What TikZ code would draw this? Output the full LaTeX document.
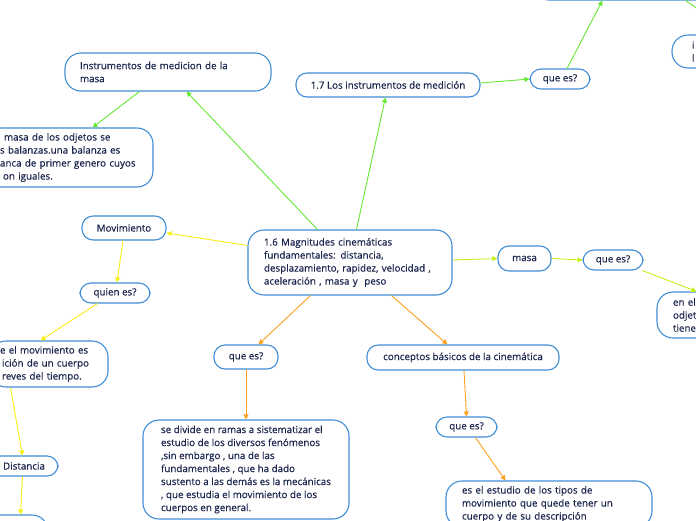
\documentclass[tikz,border=0pt]{standalone}
\usepackage{fontspec}
\setmainfont{Open Sans}[FakeBold=0.5]
\usetikzlibrary{arrows.meta}
\definecolor{boxblue}{RGB}{64,142,214}
\definecolor{txt}{RGB}{28,38,78}
\definecolor{lgreen}{RGB}{102,232,52}
\definecolor{lime}{RGB}{196,240,24}
\definecolor{lyellow}{RGB}{246,238,20}
\definecolor{lorange}{RGB}{250,160,28}
\begin{document}
\begin{tikzpicture}[x=1pt,y=-1pt,
  box/.style={draw=boxblue, line width=1.1pt, fill=white, rounded corners=11pt,
    text=txt, inner sep=0pt, font=\fontsize{9.8}{13}\selectfont},
  bigbox/.style={box, rounded corners=16pt, align=left},
  conn/.style={line width=0.9pt, -{Triangle[length=5pt,width=5pt]}}]
\useasboundingbox (0,0) rectangle (696,520);
% nodes
\node[bigbox, minimum width=206pt, minimum height=38pt, text width=176pt] (instr) at (168,72) {Instrumentos de medicion de la\\masa};
\node[bigbox, minimum height=59pt, text width=140pt, minimum width=168pt] (libra) at (69,157.5)
  {\hspace*{5pt}masa de los odjetos se\\\hspace*{1pt}s balanzas.una balanza es\\\hspace*{1pt}anca de primer genero cuyos\\\hspace*{4pt}on iguales.};
\node[bigbox, minimum width=204pt, minimum height=65pt, text width=172pt] (main) at (350,262.5)
  {1.6 Magnitudes cinemáticas\\fundamentales: distancia,\\desplazamiento, rapidez, velocidad ,\\aceleración , masa y\ \ peso};
\node[box, minimum width=184pt, minimum height=24pt] (inst17) at (388,85) {1.7 Los instrumentos de medición};
\node[box, minimum width=60pt, minimum height=20pt] (q1) at (560,79) {que es?};
\node[bigbox, minimum width=200pt, minimum height=40pt] (topbox) at (633,-20) {};
\node[bigbox, minimum width=80pt, minimum height=33pt, text width=40pt] (ibox) at (712,51.5) {i\\l};
\node[box, minimum width=53pt, minimum height=25pt] (masa) at (524.5,258.5) {masa};
\node[box, minimum width=60pt, minimum height=20pt] (q2) at (613,260) {que es?};
\node[bigbox, minimum width=92pt, minimum height=46pt, text width=60pt] (enel) at (703,315) {en el\\odjet\\tiene};
\node[box, minimum width=84pt, minimum height=24pt] (mov) at (124,228) {Movimiento};
\node[box, minimum width=70pt, minimum height=20pt] (quien) at (115,293) {quien es?};
\node[bigbox, minimum width=118pt, minimum height=46pt, text width=100pt] (movdef) at (49,364)
  {\hspace*{1pt}e el movimiento es\\\hspace*{3pt}ición de un cuerpo\\\hspace*{3pt}reves del tiempo.};
\node[box, minimum width=68pt, minimum height=20pt] (dist) at (24,466) {Distancia};
\node[bigbox, minimum width=78pt, minimum height=30pt] (dl) at (9,530) {};
\node[box, minimum width=64pt, minimum height=24pt] (q3) at (246,357) {que es?};
\node[bigbox, minimum width=206pt, minimum height=99pt] (divide) at (246,469.5)
  {se divide en ramas a sistematizar el\\estudio de los diversos fenómenos\\,sin embargo , una de las\\fundamentales , que ha dado\\sustento a las demás es la mecánicas\\, que estudia el movimiento de los\\cuerpos en general.};
\node[box, minimum width=192pt, minimum height=25pt] (concept) at (463,357.5) {conceptos básicos de la cinemática};
\node[box, minimum width=61pt, minimum height=20pt] (q4) at (466.5,427) {que es?};
\node[bigbox, minimum width=206pt, minimum height=46pt, text width=174pt] (estudio) at (549,504)
  {es el estudio de los tipos de\\movimiento que quede tener un\\cuerpo y de su descripción};
% connectors
\draw[conn, lgreen] ([xshift=70pt]main.north west) -- ([xshift=122pt]instr.south west);
\draw[conn, lgreen] ([xshift=75pt]instr.south west) -- ([xshift=-61pt]libra.north east);
\draw[conn, lgreen] ([xshift=109pt]main.north west) -- ([xshift=90pt]inst17.south west);
\draw[conn, lgreen] ([yshift=2pt]inst17.east) -- (q1.west);
\draw[conn, lgreen] ([xshift=7pt]q1.north) -- ([xshift=70pt]topbox.south west);
\draw[conn, lgreen] ([xshift=153pt]topbox.south west) -- ([xshift=24pt]ibox.north);
\draw[conn, lime] ([yshift=2.5pt]main.east) -- (masa.west);
\draw[conn, lime] (masa.east) -- (q2.west);
\draw[conn, lime] ([xshift=-1pt]q2.south east) -- ([xshift=40pt]enel.north west);
\draw[conn, lyellow] ([yshift=-16pt]main.north west) -- ([yshift=-5pt]mov.east);
\draw[conn, lyellow] ([xshift=-1pt]mov.south) -- ([xshift=2pt]quien.north);
\draw[conn, lyellow] ([xshift=18pt]quien.south west) -- ([xshift=-68pt]movdef.north east);
\draw[conn, lyellow] ([xshift=21pt]movdef.south west) -- ([xshift=33pt]dist.north west);
\draw[conn, lyellow] ([xshift=33pt]dist.south west) -- ([xshift=51pt]dl.north west);
\draw[conn, lorange] ([xshift=63pt]main.south west) -- ([xshift=45pt]q3.north west);
\draw[conn, lorange] (q3.south) -- (divide.north);
\draw[conn, lorange] ([xshift=144pt]main.south west) -- ([xshift=81pt]concept.north west);
\draw[conn, lorange] ([xshift=1pt]concept.south) -- (q4.north);
\draw[conn, lorange] ([xshift=40pt]q4.south west) -- ([xshift=60pt]estudio.north west);
\end{tikzpicture}
\end{document}
